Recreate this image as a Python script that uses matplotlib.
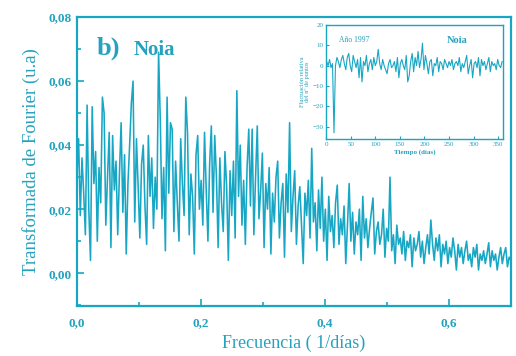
import numpy as np
import matplotlib
matplotlib.use("Agg")
import matplotlib.pyplot as plt
from matplotlib.ticker import MultipleLocator, FuncFormatter

# Fourier spectrum (frequency step 0.7/255)
spectrum = [
    0.030, 0.042, 0.018, 0.036, 0.025, 0.012, 0.0525, 0.020, 0.004, 0.052, 0.028, 0.038, 0.010, 0.033, 0.022, 0.055,
    0.050, 0.015, 0.030, 0.044, 0.008, 0.043, 0.026, 0.035, 0.012, 0.031, 0.047, 0.019, 0.037, 0.006, 0.028, 0.040,
    0.053, 0.060, 0.016, 0.042, 0.027, 0.011, 0.034, 0.040, 0.021, 0.009, 0.043, 0.024, 0.036, 0.014, 0.030, 0.020,
    0.069, 0.048, 0.017, 0.033, 0.007, 0.055, 0.025, 0.047, 0.045, 0.013, 0.035, 0.022, 0.010, 0.042, 0.028, 0.018,
    0.055, 0.044, 0.012, 0.031, 0.024, 0.006, 0.037, 0.043, 0.020, 0.029, 0.015, 0.044, 0.026, 0.010, 0.034, 0.046,
    0.019, 0.043, 0.030, 0.008, 0.036, 0.022, 0.013, 0.038, 0.027, 0.004, 0.032, 0.018, 0.035, 0.011, 0.057, 0.024,
    0.040, 0.015, 0.029, 0.009, 0.033, 0.045, 0.021, 0.045, 0.012, 0.030, 0.046, 0.017, 0.026, 0.0375, 0.008, 0.028,
    0.020, 0.033, 0.006, 0.025, 0.016, 0.030, 0.035, 0.011, 0.022, 0.028, 0.005, 0.031, 0.019, 0.047, 0.013, 0.024,
    0.032, 0.009, 0.021, 0.027, 0.015, 0.003, 0.025, 0.018, 0.029, 0.011, 0.039, 0.016, 0.022, 0.007, 0.026, 0.014,
    0.030, 0.010, 0.020, 0.004, 0.024, 0.013, 0.018, 0.008, 0.022, 0.0275, 0.009, 0.017, 0.012, 0.021, 0.003, 0.015,
    0.028, 0.010, 0.019, 0.006, 0.016, 0.012, 0.020, 0.004, 0.024, 0.011, 0.017, 0.008, 0.014, 0.019, 0.0235, 0.006,
    0.013, 0.016, 0.009, 0.012, 0.020, 0.005, 0.014, 0.010, 0.030, 0.007, 0.012, 0.003, 0.015, 0.009, 0.011, 0.006,
    0.013, 0.004, 0.010, 0.008, 0.012, 0.002, 0.011, 0.007, 0.009, 0.013, 0.005, 0.010, 0.003, 0.008, 0.012, 0.006,
    0.0166, 0.009, 0.004, 0.011, 0.007, 0.012, 0.002, 0.009, 0.006, 0.010, 0.003, 0.008, 0.005, 0.011, 0.007, 0.001,
    0.009, 0.005, 0.008, 0.003, 0.007, 0.010, 0.004, 0.006, 0.002, 0.008, 0.005, 0.009, 0.001, 0.006, 0.004, 0.007,
    0.003, 0.006, 0.0095, 0.002, 0.007, 0.004, 0.006, 0.001, 0.005, 0.008, 0.003, 0.006, 0.008, 0.002, 0.005, 0.004,
]
freq = np.linspace(0.0, 0.7, len(spectrum))

# inset: relative fluctuation, one value every 3 days
fluct = [
    2, 0, 3, -1, 1, -33, 0, 4, 2, -1, 3, 5, 1, -2, 4, 6, 0, -3, 5, 2,
    -1, 3, -6, 4, -8, 2, 0, 5, -3, 1, 3, -2, 4, 0, 2, 8, 1, -2, 3, 0,
    -2, -4, 1, 3, -1, 0, 2, -3, 4, -6, 1, 3, 0, -2, 5, -8, -5, 2, 6, -3,
    4, 0, 7, -1, 3, 11, -2, 5, 1, -4, 2, 3, -5, 1, 0, 4, -3, 2, 1, -2,
    3, 1, -1, 2, 0, 3, -2, 1, 2, 0, 4, -3, 1, -1, 2, 5, -4, 0, 3, -6,
    1, 2, -1, 4, -5, 3, 0, 2, -2, 1, 4, -3, 2, 0, 1, -2, 3, 0, -1, 2,
]
days = 1 + 3 * np.arange(len(fluct))

COL = "#17a7c4"
TXT = "#25a2bd"
SERIF = ["Liberation Serif", "DejaVu Serif"]

plt.rcParams["font.family"] = SERIF

fig = plt.figure(figsize=(5.16, 3.56), dpi=100)
ax = fig.add_axes([0.149, 0.140, 0.841, 0.812])
ax.plot(freq, spectrum, color=COL, lw=1.15)
ax.set_xlim(0, 0.7)
ax.set_ylim(-0.0103, 0.08)

comma = lambda fmt: FuncFormatter(lambda v, p: (fmt % v).replace(".", ","))
ax.xaxis.set_major_locator(MultipleLocator(0.2))
ax.xaxis.set_minor_locator(MultipleLocator(0.1))
ax.yaxis.set_major_locator(MultipleLocator(0.02))
ax.yaxis.set_minor_locator(MultipleLocator(0.01))
ax.xaxis.set_major_formatter(comma("%.1f"))
ax.yaxis.set_major_formatter(comma("%.2f"))
ax.set_yticks([0, 0.02, 0.04, 0.06, 0.08])
ax.tick_params(which="both", direction="in", colors=COL, labelcolor=TXT,
               labelsize=9.5, width=1.2)
ax.tick_params(which="major", length=5)
ax.tick_params(which="minor", length=3)
ax.tick_params(axis="x", pad=8)
for s in ax.spines.values():
    s.set_color(COL)
    s.set_linewidth(1.6)
for lab in ax.get_xticklabels() + ax.get_yticklabels():
    lab.set_fontweight("bold")

ax.set_xlabel("Frecuencia ( 1/días)", color=TXT, fontsize=13, labelpad=4)
ax.set_ylabel("Transformada de Fourier (u.a)", color=TXT, fontsize=13.5, labelpad=6)
ax.text(0.045, 0.87, "b)", transform=ax.transAxes, color=TXT, fontsize=19,
        fontweight="bold")
ax.text(0.13, 0.87, "Noia", transform=ax.transAxes, color=TXT, fontsize=15,
        fontweight="bold")

# inset
ins = fig.add_axes([0.632, 0.610, 0.343, 0.320])
ins.plot(days, fluct, color=COL, lw=0.8)
ins.set_xlim(0, 360)
ins.set_ylim(-36, 20)
ins.set_xticks(range(0, 351, 50))
ins.set_yticks([20, 10, 0, -10, -20, -30])
ins.tick_params(which="both", direction="in", colors=COL, labelcolor=TXT,
                labelsize=5, length=2, width=0.8, pad=2)
for s in ins.spines.values():
    s.set_color(COL)
    s.set_linewidth(1.0)
ins.set_xlabel("Tiempo (días)", color=TXT, fontsize=5, fontweight="bold", labelpad=2)
ins.set_ylabel("Fluctuación relativa\ndel nº de puntos", color=TXT, fontsize=4.5,
               labelpad=2, linespacing=1.0)
ins.text(0.07, 0.85, "Año 1997", transform=ins.transAxes, color=TXT, fontsize=5.5)
ins.text(0.68, 0.84, "Noia", transform=ins.transAxes, color=TXT, fontsize=7.5,
         fontweight="bold")

fig.savefig("out.png", dpi=100)
